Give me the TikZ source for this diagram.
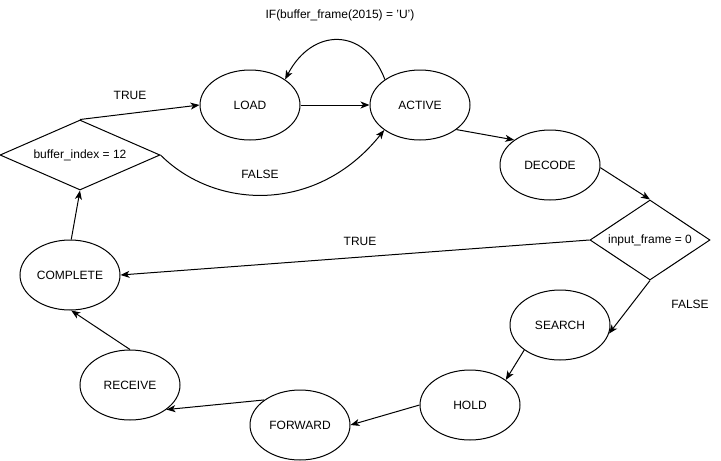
\documentclass[tikz,border=0pt]{standalone}
\usepackage{fontspec}
\setmainfont{Liberation Sans}
\usetikzlibrary{shapes.geometric,arrows.meta}
\begin{document}
\begin{tikzpicture}[x=1pt,y=1pt,
  state/.style={ellipse,draw,line width=1pt,minimum width=100pt,minimum height=70pt,inner sep=0pt,font=\fontsize{12pt}{14pt}\selectfont},
  cond/.style={diamond,draw,line width=1pt,inner sep=0pt,font=\fontsize{12pt}{14pt}\selectfont},
  lbl/.style={inner sep=0pt,font=\fontsize{12pt}{14pt}\selectfont},
  arr/.style={line width=1pt,-{Stealth[length=9pt,width=7pt,inset=2.5pt]}}]
\useasboundingbox (0,0) rectangle (721,-461);
\node[state] (load) at (250,-105) {LOAD};
\node[state] (active) at (420,-105) {ACTIVE};
\node[state] (decode) at (550,-165) {DECODE};
\node[state] (search) at (560,-325) {SEARCH};
\node[state] (hold) at (470,-405) {HOLD};
\node[state] (forward) at (300,-425) {FORWARD};
\node[state] (receive) at (130,-385) {RECEIVE};
\node[state] (complete) at (70,-275) {COMPLETE};
\node[cond,aspect=2.286,minimum width=160pt,minimum height=70pt] (bidx) at (80,-155) {buffer\_index = 12};
\node[cond,aspect=1.5,minimum width=120pt,minimum height=80pt] (ifr) at (650,-240) {input\_frame = 0};

\node[lbl] (ltitle) at (340,-15) {IF(buffer\_frame(2015) = 'U')};
\node[lbl] (ltrue1) at (130,-95) {TRUE};
\node[lbl] (lfalse1) at (260,-174) {FALSE};
\node[lbl] (ltrue2) at (360,-241) {TRUE};
\node[lbl] (lfalse2) at (690,-304) {FALSE};

\draw[arr] (bidx.north) -- (load.west);
\draw[arr] (load.east) -- (active.west);
\draw[arr] (active.144.5) .. controls +(-20,53) and +(27,52) .. (load.36);
\draw[arr] (bidx.east) .. controls +(55,-55) and +(-67,-84) .. (active.215);
\draw[arr] (active.-34.4) -- (decode.145.6);
\draw[arr] (decode.-3) -- (ifr.north);
\draw[arr] (ifr.south) -- (search.-10);
\draw[arr] (ifr.west) -- (complete.east);
\draw[arr] (search.215.8) -- (hold.35);
\draw[arr] (hold.west) -- (forward.east);
\draw[arr] (forward.145.6) -- (receive.-34);
\draw[arr] (receive.north) -- (complete.-88);
\draw[arr] (complete.88) -- (bidx.south);
\end{tikzpicture}
\end{document}
